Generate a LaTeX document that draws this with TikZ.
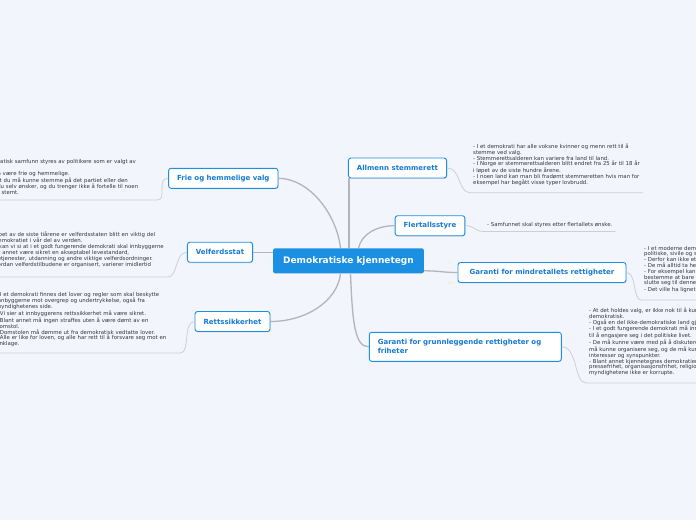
\documentclass[tikz,border=0pt]{standalone}
\usepackage{fontspec}
\setmainfont{DejaVu Sans}
\usetikzlibrary{shadows}

\definecolor{bakgrunn}{RGB}{243,245,253}
\definecolor{blaa}{RGB}{27,143,226}
\definecolor{blaatekst}{RGB}{22,122,212}
\definecolor{grenfarge}{RGB}{178,180,190}
\definecolor{tynnfarge}{RGB}{205,207,215}
\definecolor{tekstgraa}{RGB}{55,55,60}

\tikzset{
  hoved/.style={fill=blaa, rounded corners=2pt, text=white,
    font=\bfseries\fontsize{9}{11}\selectfont, inner xsep=10pt, minimum height=25pt},
  emne/.style={draw=blaa, line width=0.9pt, fill=white, rounded corners=2.5pt, text=blaatekst,
    font=\bfseries\fontsize{7}{9}\selectfont, inner xsep=8.5pt, minimum height=20pt,
    drop shadow={shadow xshift=0.6pt, shadow yshift=-0.8pt, opacity=0.25}},
  tekst/.style={align=left, text=tekstgraa, font=\fontsize{5.4}{5.8}\selectfont,
    inner xsep=3pt, inner ysep=7pt},
  grenlinje/.style={draw=grenfarge, line width=1.3pt},
  tynnlinje/.style={draw=tynnfarge, line width=0.8pt},
}

\begin{document}
\begin{tikzpicture}[x=1pt, y=-1pt]
  \fill[bakgrunn] (0,0) rectangle (696,520);
  \useasboundingbox (0,0) rectangle (696,520);

  % Midten og emnene
  \node[hoved] (sentral) at (348.5,260.8) {Demokratiske kjennetegn};
  \node[emne] (allmenn) at (397.5,168) {Allmenn stemmerett};
  \node[emne] (frie) at (223.3,178.3) {Frie og hemmelige valg};
  \node[emne] (velferd) at (220,252.2) {Velferdsstat};
  \node[emne] (flertall) at (430,225.7) {Flertallsstyre};
  \node[emne, minimum width=168pt] (mindretall) at (542,272.5) {Garanti for mindretallets rettigheter};
  \node[emne] (retts) at (232.5,321.5) {Rettssikkerhet};
  \node[emne, text width=175pt, align=left, minimum height=29pt] (grunnl) at (465.3,346.8)
    {Garanti for grunnleggende rettigheter og\\friheter};

  % Tekstene
  \node[tekst, anchor=south west] (allmenntekst) at (470,192.7) {%
    - I et demokrati har alle voksne kvinner og menn rett til å\\
    stemme ved valg.\\
    - Stemmerettsalderen kan variere fra land til land.\\
    - I Norge er stemmerettsalderen blitt endret fra 25 år til 18 år\\
    i løpet av de siste hundre årene.\\
    - I noen land kan man bli fradømt stemmeretten hvis man for\\
    eksempel har begått visse typer lovbrudd.};
  \node[tekst, anchor=south west, inner ysep=3.5pt] (flertalltekst) at (484,231.5)
    {- Samfunnet skal styres etter flertallets ønske.};
  \node[tekst, anchor=south west] (mindretalltekst) at (641,300) {%
    - I et moderne demokrati skal alle borgere ha de samme\\
    politiske, sivile og sosiale rettighetene.\\
    - Derfor kan ikke et flertall bestemme hva som helst.\\
    - De må alltid ta hensyn til mindretallets rettigheter.\\
    - For eksempel kan ikke et flertall i Stortinget\\
    bestemme at bare de som tilhører et bestemt parti, kan\\
    slutte seg til denne organisasjonen.\\
    - Det ville ha lignet på et diktatur.};
  \node[tekst, anchor=south west] (grunnltekst) at (586,383) {%
    - At det holdes valg, er ikke nok til å kunne kalle et land\\
    demokratisk.\\
    - Også en del ikke-demokratiske land gjennomfører valg.\\
    - I et godt fungerende demokrati må innbyggerne ha muligheter\\
    til å engasjere seg i det politiske livet.\\
    - De må kunne være med på å diskutere politiske spørsmål, de\\
    må kunne organisere seg, og de må kunne ytre seg om sine\\
    interesser og synspunkter.\\
    - Blant annet kjennetegnes demokratier av ytringsfrihet,\\
    pressefrihet, organisasjonsfrihet, religionsfrihet og at\\
    myndighetene ikke er korrupte.};
  \node[tekst, anchor=south west, text width=189pt, inner ysep=5pt] (frietekst) at (-38,200) {%
    - I et demokratisk samfunn styres av politikere som er valgt av\\
    folket.\\
    - Valgene må være frie og hemmelige.\\
    - Det betyr at du må kunne stemme på det partiet eller den\\
    kandidaten du selv ønsker, og du trenger ikke å fortelle til noen\\
    hvem du har stemt.};
  \node[tekst, anchor=south west, text width=178pt, inner ysep=9.5pt] (velferdtekst) at (-16.5,277) {%
    - I løpet av de siste tiårene er velferdsstaten blitt en viktig del\\
    av demokratiet i vår del av verden.\\
    - Så kan vi si at i et godt fungerende demokrati skal innbyggerne\\
    blant annet være sikret en akseptabel levestandard,\\
    helsetjenester, utdanning og andre viktige velferdsordninger.\\
    - Hvordan velferdstilbudene er organisert, varierer imidlertid};
  \node[tekst, anchor=south west, text width=181pt, inner ysep=6pt] (rettstekst) at (-7,353) {%
    - I et demokrati finnes det lover og regler som skal beskytte\\
    innbyggerne mot overgrep og undertrykkelse, også fra\\
    myndighetenes side.\\
    - Vi sier at innbyggerens rettssikkerhet må være sikret.\\
    - Blant annet må ingen straffes uten å være dømt av en\\
    domstol.\\
    - Domstolen må dømme ut fra demokratisk vedtatte lover.\\
    - Alle er like for loven, og alle har rett til å forsvare seg mot en\\
    anklage.};

  % Greiner fra midten
  \draw[grenlinje] ([xshift=1pt]allmenn.south west) -- ([xshift=1pt]allmenn.south west |- sentral.north);
  \draw[grenlinje] ([xshift=-8pt]sentral.north) .. controls +(-4,-35) and +(30,0) .. (frie.east);
  \draw[grenlinje] (velferd.east) -- (velferd.east -| sentral.west);
  \draw[grenlinje] ([xshift=10pt]sentral.north) .. controls +(3,-14) and +(-18,0) .. (flertall.west);
  \draw[grenlinje] ([yshift=-10pt]sentral.east) .. controls +(15,0) and +(-15,0) .. (mindretall.west);
  \draw[grenlinje] ([xshift=-8pt]sentral.south) .. controls +(-3,28) and +(35,0) .. (retts.east);
  \draw[grenlinje] ([xshift=2pt]sentral.south) .. controls +(2,50) and +(-14,0) .. (grunnl.west);

  % Tynne linjer til tekstene
  \draw[tynnlinje] (allmenn.east) .. controls +(14,0) and +(-12,0) .. (allmenntekst.south west) -- (allmenntekst.south east);
  \draw[tynnlinje] (flertall.east) .. controls +(10,0) and +(-10,0) .. (flertalltekst.south west) -- (flertalltekst.south east);
  \draw[tynnlinje] (mindretall.east) .. controls +(10,0) and +(-8,0) .. (mindretalltekst.south west) -- (mindretalltekst.south east);
  \draw[tynnlinje] (grunnl.east) .. controls +(16,0) and +(-12,0) .. (grunnltekst.south west) -- (grunnltekst.south east);
  \draw[tynnlinje] (frie.west) .. controls +(-12,0) and +(10,0) .. (frietekst.south east) -- (frietekst.south west);
  \draw[tynnlinje] (velferd.west) .. controls +(-12,0) and +(10,0) .. (velferdtekst.south east) -- (velferdtekst.south west);
  \draw[tynnlinje] (retts.west) .. controls +(-12,0) and +(10,0) .. (rettstekst.south east) -- (rettstekst.south west);
\end{tikzpicture}
\end{document}
